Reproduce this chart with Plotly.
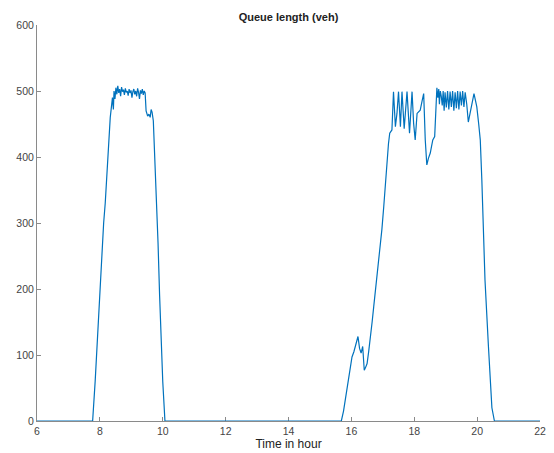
import plotly.graph_objects as go

# Time (hours) and queue length (veh)
time_hr = [
    6.0, 7.77, 7.85, 7.95, 8.05, 8.12, 8.17, 8.25, 8.33, 8.40,
    8.43, 8.45, 8.48, 8.51, 8.54, 8.57, 8.60, 8.63, 8.66, 8.69,
    8.72, 8.75, 8.78, 8.81, 8.84, 8.87, 8.90, 8.93, 8.96, 8.99,
    9.02, 9.05, 9.08, 9.11, 9.14, 9.17, 9.20, 9.23, 9.26, 9.29,
    9.32, 9.35, 9.38, 9.41, 9.44,
    9.47, 9.52, 9.56, 9.60, 9.63, 9.66, 9.70, 9.75, 9.80, 9.85,
    9.90, 9.95, 10.00, 10.07,
    15.68, 15.75, 15.81, 15.87, 15.92, 15.97, 16.02, 16.08, 16.13, 16.18,
    16.21, 16.26, 16.31, 16.36, 16.41, 16.46, 16.50, 16.55, 16.60, 16.66,
    16.71, 16.77, 16.82, 16.87, 16.92, 16.97, 17.03, 17.08, 17.13, 17.18,
    17.22, 17.26, 17.29, 17.34, 17.40, 17.45, 17.50, 17.56, 17.61, 17.68,
    17.77, 17.85, 17.93, 17.98, 18.03, 18.09, 18.14, 18.19, 18.25, 18.30,
    18.35, 18.40, 18.45, 18.51, 18.55, 18.59, 18.65, 18.70,
    18.72, 18.75, 18.78, 18.80, 18.83, 18.86, 18.89, 18.92, 18.95, 18.98,
    19.02, 19.06, 19.10, 19.14, 19.18, 19.22, 19.26, 19.30, 19.34, 19.38,
    19.42, 19.46, 19.50, 19.54, 19.58, 19.62, 19.67,
    19.72, 19.80, 19.86, 19.90, 19.95, 19.99, 20.05, 20.10, 20.15, 20.25,
    20.36, 20.47, 20.55, 22.0,
]
queue_veh = [
    0, 0, 60, 150, 250, 300, 330, 400, 460, 490,
    472, 500, 488, 505, 495, 508, 497, 503, 492, 506,
    499, 502, 494, 504, 498, 500, 493, 503, 497, 501,
    490, 499, 503, 495, 500, 492, 504, 498, 488, 501,
    496, 503, 494, 500, 497,
    470, 462, 465, 460, 472, 468, 455, 400, 340, 270,
    190, 120, 60, 0,
    0, 15, 32, 50, 62, 80, 97, 105, 113, 120,
    128, 110, 103, 113, 77, 82, 87, 105, 123, 150,
    173, 200, 224, 245, 264, 290, 325, 360, 390, 420,
    436, 440, 441, 499, 446, 466, 499, 446, 499, 443,
    499, 436, 499, 451, 426, 466, 468, 471, 485, 496,
    426, 388, 398, 406, 416, 426, 431, 501,
    505, 490, 503, 480, 500, 492, 478, 500, 470, 498,
    475, 500, 472, 499, 476, 500, 470, 498, 474, 500,
    472, 499, 478, 500, 476, 498, 480,
    453, 474, 490, 496, 485, 476, 450, 426, 365, 214,
    113, 20, 0, 0,
]

x_ticks = [6, 8, 10, 12, 14, 16, 18, 20, 22]
y_ticks = [0, 100, 200, 300, 400, 500, 600]

fig = go.Figure()
fig.add_trace(go.Scatter(
    x=time_hr, y=queue_veh, mode="lines",
    line=dict(color="#0072BD", width=1.2),
    showlegend=False, hoverinfo="skip",
))

axis_common = dict(
    showline=True, linecolor="#8a8a8a", linewidth=1,
    ticks="inside", ticklen=4, tickcolor="#8a8a8a", tickwidth=1,
    showgrid=False, zeroline=False, mirror=False, automargin=False,
    tickfont=dict(family="Liberation Sans, Arial, sans-serif", size=10.5, color="#444444"),
    layer="below traces",
)

fig.update_layout(
    width=554, height=453,
    margin=dict(l=37, r=14, t=25, b=32),
    paper_bgcolor="white", plot_bgcolor="white",
    title=dict(
        text="<b>Queue length (veh)</b>",
        x=(37 + 540) / 2 / 554, xanchor="center",
        y=1 - 17 / 453, yanchor="middle", yref="container",
        font=dict(family="Liberation Sans, Arial, sans-serif", size=11, color="#222222"),
    ),
    xaxis=dict(
        range=[6, 22], tickvals=x_ticks,
        title=dict(text="Time in hour", standoff=0,
                   font=dict(family="Liberation Sans, Arial, sans-serif", size=12, color="#222222")),
        **axis_common,
    ),
    yaxis=dict(range=[0, 600], tickvals=y_ticks, **axis_common),
)

fig.write_html("out.html")
